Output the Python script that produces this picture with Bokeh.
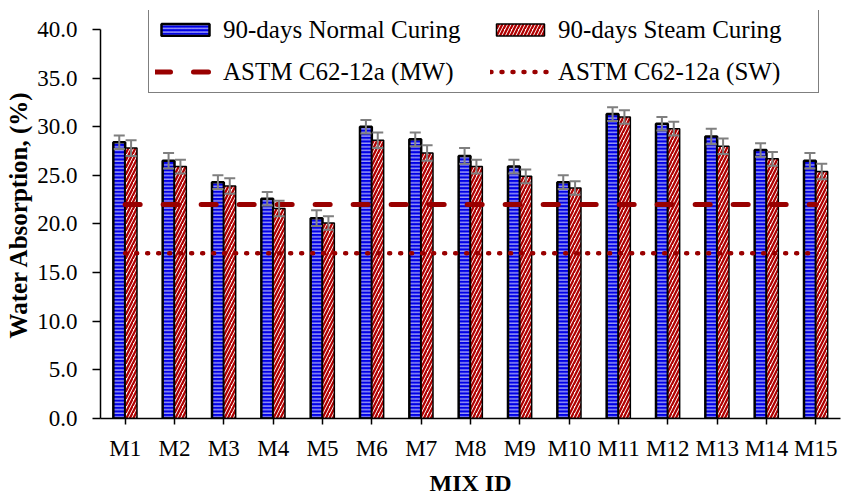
from bokeh.plotting import figure
from bokeh.models import (ColumnDataSource, FactorRange, Range1d, Whisker, TeeHead,
                          Legend, LegendItem, SingleIntervalTicker, NumeralTickFormatter)
from bokeh.transform import dodge
from bokeh.embed import file_html
from bokeh.resources import INLINE

mix_ids = ["M1", "M2", "M3", "M4", "M5", "M6", "M7", "M8", "M9", "M10",
           "M11", "M12", "M13", "M14", "M15"]
normal_curing = [28.4, 26.5, 24.3, 22.6, 20.6, 30.0, 28.7, 27.0, 25.9, 24.3,
                 31.3, 30.3, 29.0, 27.6, 26.5]
steam_curing = [27.8, 25.9, 23.9, 21.6, 20.1, 28.6, 27.3, 25.9, 24.9, 23.7,
                31.0, 29.8, 28.0, 26.7, 25.4]
normal_err = [0.7, 0.8, 0.7, 0.7, 0.8, 0.7, 0.7, 0.8, 0.7, 0.7, 0.7, 0.7, 0.8, 0.7, 0.8]
steam_err = [0.8, 0.7, 0.8, 0.8, 0.7, 0.8, 0.8, 0.7, 0.7, 0.7, 0.7, 0.7, 0.8, 0.7, 0.8]
astm_mw_limit = 22.0
astm_sw_limit = 17.0
y_ticks_max = 40.0

BLUE = "#0000E6"
RED = "#B00000"
DKRED = "#990000"
FONT = "Liberation Serif"

src = ColumnDataSource(data=dict(
    mix=mix_ids,
    normal=normal_curing,
    steam=steam_curing,
    n_lo=[v - e for v, e in zip(normal_curing, normal_err)],
    n_hi=[v + e for v, e in zip(normal_curing, normal_err)],
    s_lo=[v - e for v, e in zip(steam_curing, steam_err)],
    s_hi=[v + e for v, e in zip(steam_curing, steam_err)],
    mw=[astm_mw_limit] * len(mix_ids),
    sw=[astm_sw_limit] * len(mix_ids),
))

# frame top leaves room for the legend, which overhangs the 40.0 tick
p = figure(x_range=FactorRange(factors=mix_ids, range_padding=0),
           y_range=Range1d(0, 41.95),
           width=844, height=500, output_backend="svg", toolbar_location=None,
           min_border_left=100, min_border_right=4, min_border_top=10,
           min_border_bottom=82)
p.outline_line_color = None
p.xgrid.grid_line_color = None
p.ygrid.grid_line_color = None
p.background_fill_color = "white"
p.border_fill_color = "white"

bw = 0.24
r_n = p.vbar(x=dodge("mix", -bw / 2, range=p.x_range), top="normal", width=bw, source=src,
             fill_color=BLUE, line_color="black", line_width=2.5,
             hatch_pattern="horizontal_line", hatch_color="white",
             hatch_weight=0.9, hatch_scale=3.6)
r_s = p.vbar(x=dodge("mix", bw / 2, range=p.x_range), top="steam", width=bw, source=src,
             fill_color="white", line_color="black", line_width=1.5,
             hatch_pattern="right_diagonal_line", hatch_color=RED,
             hatch_weight=2.3, hatch_scale=7)

r_mw = p.line(x="mix", y="mw", source=src, line_color=DKRED, line_width=5,
              line_dash="15 23", line_cap="round")
r_sw = p.line(x="mix", y="sw", source=src, line_color=DKRED, line_width=4.5,
              line_dash="1 10", line_cap="round")

for base, lo, hi in [(dodge("mix", -bw / 2, range=p.x_range), "n_lo", "n_hi"),
                     (dodge("mix", bw / 2, range=p.x_range), "s_lo", "s_hi")]:
    w = Whisker(base=base, lower=lo, upper=hi, source=src,
                line_color="#7F7F7F", line_width=2,
                upper_head=TeeHead(size=11, line_color="#7F7F7F", line_width=2),
                lower_head=TeeHead(size=11, line_color="#7F7F7F", line_width=2),
                level="overlay")
    p.add_layout(w)

# axes
p.yaxis.ticker = SingleIntervalTicker(interval=5)
p.yaxis.bounds = (0, y_ticks_max)
p.yaxis.formatter = NumeralTickFormatter(format="0.0")
p.yaxis.axis_label = "Water Absorption, (%)"
p.xaxis.axis_label = "MIX ID"
for ax in (p.xaxis, p.yaxis):
    ax.axis_line_color = "black"
    ax.axis_line_width = 1.5
    ax.major_tick_line_color = "black"
    ax.major_tick_line_width = 1.5
    ax.major_tick_in = 0
    ax.minor_tick_line_color = None
    ax.major_label_text_font = FONT
    ax.major_label_text_font_size = "23px"
    ax.major_label_text_color = "black"
    ax.axis_label_text_font = FONT
    ax.axis_label_text_font_style = "bold"
    ax.axis_label_text_color = "black"
p.yaxis.axis_label_text_font_size = "25px"
p.xaxis.axis_label_text_font_size = "24px"
p.yaxis.major_tick_out = 8
p.xaxis.major_tick_out = 6
p.yaxis.major_label_standoff = 15
p.xaxis.major_label_standoff = 11
p.yaxis.axis_label_standoff = 2
p.xaxis.axis_label_standoff = 6

legend = Legend(items=[
    LegendItem(label="90-days Normal Curing", renderers=[r_n]),
    LegendItem(label="90-days Steam Curing", renderers=[r_s]),
    LegendItem(label="ASTM C62-12a (MW)", renderers=[r_mw]),
    LegendItem(label="ASTM C62-12a (SW)", renderers=[r_sw]),
], location=(48, 325), orientation="horizontal", ncols=2)
legend.margin = 0
legend.padding = 6
legend.spacing = 13
legend.glyph_width = 60
legend.glyph_height = 15
legend.label_standoff = 8
legend.label_height = 29
legend.label_width = 254
legend.label_text_font = FONT
legend.label_text_font_size = "25px"
legend.label_text_color = "black"
legend.border_line_color = "black"
legend.border_line_width = 1.5
legend.background_fill_color = "white"
legend.background_fill_alpha = 1
p.add_layout(legend, "center")

open("out.html", "w").write(file_html(p, INLINE))
